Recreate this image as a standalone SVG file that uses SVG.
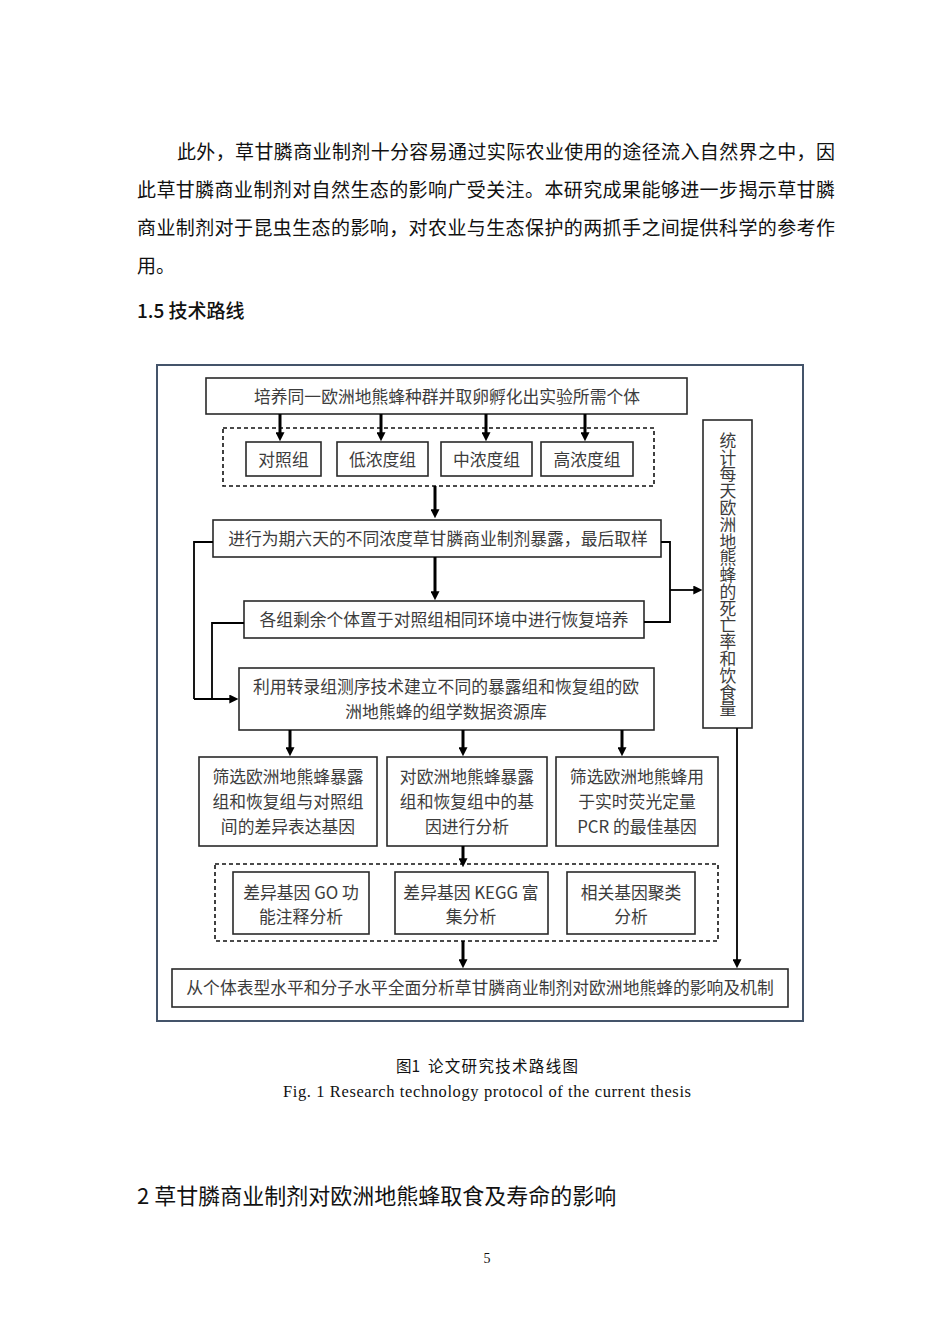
<svg xmlns="http://www.w3.org/2000/svg" width="950" height="1344" viewBox="0 0 950 1344">
<style>
.body{font-family:"Noto Sans CJK SC","Noto Sans",sans-serif;font-size:19px;fill:#111}
.t{font-family:"Noto Sans CJK SC","Noto Sans",sans-serif;font-size:16.8px;fill:#3c3c3c;text-anchor:middle}
.v{font-family:"Noto Sans CJK SC","Noto Sans",sans-serif;font-size:16.8px;fill:#3c3c3c;writing-mode:vertical-rl;text-orientation:upright}
.bx{fill:#fff;stroke:#2a2a2a;stroke-width:1.6}
.dash{fill:none;stroke:#111;stroke-width:1.6;stroke-dasharray:4 3}
.thick{stroke:#000;stroke-width:3;fill:none}
.thin{stroke:#000;stroke-width:1.8;fill:none}
</style>
<defs>
<marker id="ah" viewBox="0 0 10 10" refX="3" refY="5" markerWidth="9" markerHeight="9" markerUnits="userSpaceOnUse" orient="auto"><path d="M0,0 L10,5 L0,10 z" fill="#000"/></marker>
</defs>
<rect width="950" height="1344" fill="#fff"/>

<g id="page-text">
<text class="body" x="177" y="159" textLength="658" lengthAdjust="spacing">此外，草甘膦商业制剂十分容易通过实际农业使用的途径流入自然界之中，因</text>
<text class="body" x="137" y="197" textLength="698" lengthAdjust="spacing">此草甘膦商业制剂对自然生态的影响广受关注。本研究成果能够进一步揭示草甘膦</text>
<text class="body" x="137" y="235" textLength="698" lengthAdjust="spacing">商业制剂对于昆虫生态的影响，对农业与生态保护的两抓手之间提供科学的参考作</text>
<text class="body" x="137" y="273">用。</text>
<text class="body" x="137" y="318" style="font-weight:500">1.5 技术路线</text>
<text x="396" y="1072" style="font-family:'Noto Sans CJK SC',sans-serif;font-size:15.5px;fill:#111">图1</text>
<text x="428" y="1072" textLength="150" lengthAdjust="spacing" style="font-family:'Noto Sans CJK SC',sans-serif;font-size:15.5px;fill:#111">论文研究技术路线图</text>
<text x="283" y="1097" textLength="408" lengthAdjust="spacing" style="font-family:'Liberation Serif',serif;font-size:16.5px;fill:#111">Fig. 1 Research technology protocol of the current thesis</text>
<text x="137" y="1204" style="font-family:'Noto Sans CJK SC',sans-serif;font-size:22px;fill:#111">2 草甘膦商业制剂对欧洲地熊蜂取食及寿命的影响</text>
<text x="487" y="1263" text-anchor="middle" style="font-family:'Liberation Serif',serif;font-size:14px;fill:#111">5</text>
</g>

<g id="frame"><rect x="157" y="365" width="646" height="656" fill="none" stroke="#44546a" stroke-width="2"/></g>

<g id="n1"><rect class="bx" x="206" y="378" width="481" height="36"/><text class="t" x="447" y="402.5">培养同一欧洲地熊蜂种群并取卵孵化出实验所需个体</text></g>

<g id="groups"><rect class="dash" x="223" y="428" width="431" height="58"/></g>
<g id="g1"><rect class="bx" x="246" y="442" width="75" height="34"/><text class="t" x="283.5" y="466">对照组</text></g>
<g id="g2"><rect class="bx" x="337" y="442" width="91" height="34"/><text class="t" x="382.5" y="466">低浓度组</text></g>
<g id="g3"><rect class="bx" x="441" y="442" width="91" height="34"/><text class="t" x="486.5" y="466">中浓度组</text></g>
<g id="g4"><rect class="bx" x="541" y="442" width="92" height="34"/><text class="t" x="587" y="466">高浓度组</text></g>

<g id="n2"><rect class="bx" x="213" y="520" width="448" height="37"/><text class="t" x="438" y="545">进行为期六天的不同浓度草甘膦商业制剂暴露，最后取样</text></g>
<g id="n3"><rect class="bx" x="244" y="601" width="400" height="37"/><text class="t" x="444" y="626">各组剩余个体置于对照组相同环境中进行恢复培养</text></g>
<g id="n4"><rect class="bx" x="239" y="668" width="415" height="62"/><text class="t" x="446" y="693">利用转录组测序技术建立不同的暴露组和恢复组的欧</text><text class="t" x="446" y="718">洲地熊蜂的组学数据资源库</text></g>

<g id="stat"><rect class="bx" x="703" y="420" width="49" height="308"/>
<text class="v" x="728" y="432">统计每天欧洲地熊蜂的死亡率和饮食量</text>
</g>

<g id="a1"><rect class="bx" x="199" y="757" width="178" height="89"/><text class="t" x="288" y="783">筛选欧洲地熊蜂暴露</text><text class="t" x="288" y="808">组和恢复组与对照组</text><text class="t" x="288" y="833">间的差异表达基因</text></g>
<g id="a2"><rect class="bx" x="387" y="757" width="160" height="89"/><text class="t" x="467" y="783">对欧洲地熊蜂暴露</text><text class="t" x="467" y="808">组和恢复组中的基</text><text class="t" x="467" y="833">因进行分析</text></g>
<g id="a3"><rect class="bx" x="556" y="757" width="162" height="89"/><text class="t" x="637" y="783">筛选欧洲地熊蜂用</text><text class="t" x="637" y="808">于实时荧光定量</text><text class="t" x="637" y="833">PCR 的最佳基因</text></g>

<g id="analyses"><rect class="dash" x="215" y="864" width="503" height="77"/></g>
<g id="d1"><rect class="bx" x="233" y="872" width="136" height="62"/><text class="t" x="301" y="899">差异基因 GO 功</text><text class="t" x="301" y="923">能注释分析</text></g>
<g id="d2"><rect class="bx" x="395" y="872" width="153" height="62"/><text class="t" x="471" y="899">差异基因 KEGG 富</text><text class="t" x="471" y="923">集分析</text></g>
<g id="d3"><rect class="bx" x="567" y="872" width="128" height="62"/><text class="t" x="631" y="899">相关基因聚类</text><text class="t" x="631" y="923">分析</text></g>

<g id="final"><rect class="bx" x="172" y="969" width="616" height="38"/><text class="t" x="480" y="994">从个体表型水平和分子水平全面分析草甘膦商业制剂对欧洲地熊蜂的影响及机制</text></g>

<g id="connectors">
<line class="thick" x1="280" y1="414" x2="280" y2="435" marker-end="url(#ah)"/>
<line class="thick" x1="381" y1="414" x2="381" y2="435" marker-end="url(#ah)"/>
<line class="thick" x1="486" y1="414" x2="486" y2="435" marker-end="url(#ah)"/>
<line class="thick" x1="585" y1="414" x2="585" y2="435" marker-end="url(#ah)"/>
<line class="thick" x1="435" y1="486" x2="435" y2="512" marker-end="url(#ah)"/>
<line class="thick" x1="435" y1="557" x2="435" y2="594" marker-end="url(#ah)"/>
<polyline class="thin" points="213,542 194,542 194,699"/>
<polyline class="thin" points="244,623 212,623 212,699"/>
<line class="thin" x1="194" y1="699" x2="232" y2="699" marker-end="url(#ah)"/>
<polyline class="thin" points="661,542 670,542 670,622 644,622"/>
<line class="thin" x1="670" y1="590" x2="696" y2="590" marker-end="url(#ah)"/>
<line class="thick" x1="290" y1="730" x2="290" y2="750" marker-end="url(#ah)"/>
<line class="thick" x1="463" y1="730" x2="463" y2="750" marker-end="url(#ah)"/>
<line class="thick" x1="622" y1="730" x2="622" y2="750" marker-end="url(#ah)"/>
<line class="thick" x1="463" y1="846" x2="463" y2="861" marker-end="url(#ah)"/>
<line class="thick" x1="463" y1="941" x2="463" y2="962" marker-end="url(#ah)"/>
<line class="thin" x1="737" y1="728" x2="737" y2="962" marker-end="url(#ah)"/>
</g>
</svg>
